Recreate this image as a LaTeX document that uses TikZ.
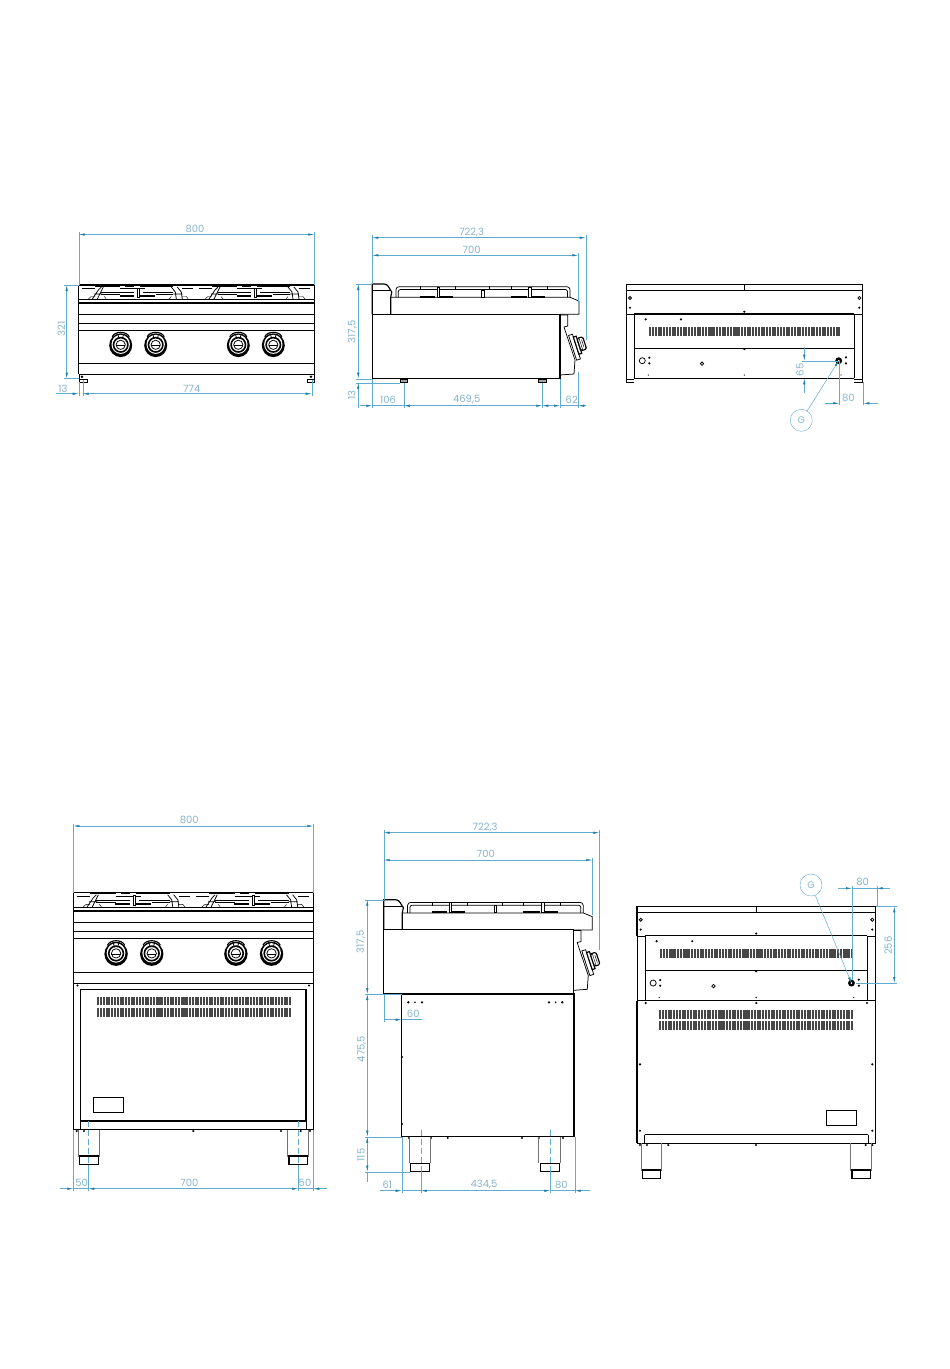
\documentclass[tikz,border=0pt]{standalone}
\usepackage{fontspec}
\setmainfont{Poppins}
\usetikzlibrary{arrows.meta}
\definecolor{dimcol}{HTML}{5FACCF}
\definecolor{tipcol}{HTML}{1F7EA8}
\definecolor{labcol}{HTML}{86B4CB}
\tikzset{
  dimline/.style={dimcol, line width=0.5pt, >={Latex[length=6pt,width=2.4pt,color=tipcol]}},
  extline/.style={dimcol, line width=0.4pt},
  dimlabel/.style={text=labcol, font=\fontsize{10}{10}\selectfont, inner sep=0pt},
  dimlabelv/.style={dimlabel, rotate=90},
  balloon/.style={draw=dimcol, line width=0.4pt, circle, minimum size=22pt, inner sep=0pt, text=labcol, font=\fontsize{9.5}{10}\selectfont},
  heavy/.style={line width=1.15pt, black},
  medium/.style={line width=0.75pt, black},
  fine/.style={line width=0.45pt, black},
  legline/.style={line width=0.9pt, black!55},
  centreline/.style={extline, dashed, dash pattern=on 6pt off 3pt}
}
\newcommand\ventrow[4]{%
  \pgfmathsetmacro\ventn{int((#2-#1)/2.78)}
  \foreach \v in {0,...,\ventn}
    \fill[black!72] ({#1+\v*2.78},#3) rectangle ++(2.05,#4-#3);
}
\newcommand\grateunit[1]{%
  \begin{scope}[shift={(#1,0)}]
    \draw[heavy] (-3,1) -- (22,1) (27,1) -- (36,1) (42,1) -- (75,1);
    \draw[medium] (-16,3.5) -- (-3,3.5) (22,3.5) -- (39,3.5) (42,3.5) -- (47,3.5) (84,3.5) -- (95,3.5);
    \draw[fine] (3,7) -- (36,7) (45,7) -- (75,7);
    \draw[medium] (3,9.3) -- (22,9.3) (58,9.3) -- (75,9.3);
    \draw[line width=2.2pt] (21.7,11.2) -- (36,11.2) (41.7,11.2) -- (56.7,11.2);
    \draw[medium] (-6,14) -- (0,5) -- (3,2) (-1,14) -- (3,6) -- (5,2) (-4,9) -- (4,9);
    \draw[medium] (73,2) -- (77,7) -- (78,14) (79,2) -- (83,7) -- (84,14) (75,9) -- (84,9);
    \draw[fine] (-10,14) -- (-7,11.5) -- (-3,11.5) (6,11.5) -- (8,14) (71,14) -- (73,11.5) (84,11.5) -- (88,11.5) -- (90,14);
    \draw[medium] (39,3) rectangle (41.5,12);
  \end{scope}
}
\newcommand\burnerknob[2]{%
  \begin{scope}[shift={(#1,#2)}]
    \fill[black] (0,1) ellipse (11.5 and 11.8);
    \fill[white] (0,0) ellipse (9.2 and 9.6);
    \draw[line width=1.6pt] (0,0.5) circle (7.2);
    \draw[medium] (0,0.5) circle (4.6);
    \draw[medium] (-4.6,1.5) -- (4.6,1.5);
    \draw[heavy] (-8.5,-7.5) .. controls (-6,-13.5) and (6,-13.5) .. (8.5,-7.5);
    \draw[medium] (-6,-8.5) .. controls (-3,-11) and (3,-11) .. (6,-8.5);
    \draw[medium] (-3,-10.5) -- (-1.5,-5.5) (3,-10.5) -- (1.5,-5.5);
  \end{scope}
}
\newcommand\frontpanel{%
  \draw[heavy] (0,0) -- (235.6,0);
  \draw[medium] (0,14.5) -- (235.6,14.5);
  \draw[heavy] (0,18) -- (235.6,18) (0,29.3) -- (235.6,29.3);
  \draw[medium] (0,38) -- (235.6,38);
  \draw[heavy] (0,45.3) -- (235.6,45.3) (0,78.7) -- (235.6,78.7) (0,89.3) -- (235.6,89.3);
  \draw[heavy] (0,0) -- (0,89.3) (235.6,0) -- (235.6,89.3);
  \grateunit{19.6}
  \grateunit{136.3}
  \burnerknob{42}{59.3}
  \burnerknob{77}{59.3}
  \burnerknob{159.6}{59.3}
  \burnerknob{194.6}{59.3}
}
\newcommand\sideknob[2]{%
  \begin{scope}[shift={(#1,#2)}, rotate=18]
    \draw[medium, fill=white] (-6,-12) rectangle (-2,14);
    \draw[heavy, fill=white] (-2,-9) rectangle (1,9);
    \draw[heavy, fill=white, rounded corners=1.5pt] (1,-6.5) rectangle (7,6.5);
    \draw[fine] (3,-6.5) -- (3,6.5) (5,-4) -- (5,4);
  \end{scope}
}
\newcommand\sidepanel{%
  \draw[heavy] (0,30.3) -- (0,0) -- (12,0) .. controls (16,0) and (17,5) .. (19.5,8) -- (18.4,13.3) -- (18.4,30.3);
  \draw[medium] (0,6.7) -- (18.4,6.7);
  \draw[heavy] (0,30.3) rectangle (187.7,94.7);
  \draw[medium] (18.4,13.3) -- (197.7,13.3) -- (206.7,17) -- (206.7,30.3) -- (187.7,30.3);
  \draw[medium, rounded corners=3pt] (23.7,13.3) -- (23.7,2.7) -- (197.7,2.7) -- (197.7,13.3);
  \draw[medium, rounded corners=2pt] (26,13.3) -- (26,5.6) -- (195.2,5.6) -- (195.2,13.3);
  \foreach \x in {47.7,82.7,117,138.4,174.4}
    \fill (\x,1.8) rectangle ++(1,4.5);
  \draw[medium, fill=white] (65,3) rectangle (67.5,13) (156.4,3) rectangle (158.9,13) (109.4,6) rectangle (111.9,13);
  \draw[line width=1.8pt] (47.7,12.6) -- (62.7,12.6) (67.7,12.6) -- (80.7,12.6) (138.4,12.6) -- (154.4,12.6) (159.4,12.6) -- (172.7,12.6);
  \draw[medium] (187.7,31) -- (195.4,31) -- (195.4,42) -- (191.7,43) -- (202.7,76) -- (201.7,90) -- (187.7,91);
  \sideknob{205.7}{61}
}
\newcommand\backpanel[1]{%
  \draw[heavy] (0,0) rectangle (236.4,6);
  \draw[heavy] (118,0) -- (118,6);
  \draw[heavy] (0,6) -- (0,29.3) (236.4,6) -- (236.4,29.3);
  \draw[heavy] (8,29.3) -- (228,29.3) (8,29.3) -- (8,93.6);
  \draw[heavy] (228,29.3) -- (228,93.6);
  \draw[medium] (0,29.3) -- (8,29.3) (228,29.3) -- (236.4,29.3);
  \draw[heavy] (8,63.6) -- (228,63.6);
  \ventrow{23}{213}{42}{51.3}
  \draw[medium] (3.7,13.3) circle (1.5) (233,13.3) circle (1.5);
  \draw[medium] (16,76) circle (3);
  \draw[medium] (75.7,79) circle (1.7);
  \foreach \x/\y in {3.7/23,233/23,118/27,19.4/34.6,54.7/34.6,118/64.3,23/73,23/78.6,219.7/72.6,219.7/78.6}
    \fill (\x,\y) circle (1.2);
  \foreach \x/\y in {22/90.3,118/90.3,214.7/90.3}
    \fill (\x,\y) circle (0.7);
  \fill (212.4,76) circle (3.4);
  \fill[white] (212.4,76) circle (0.9);
  \coordinate (#1) at (212.4,76);
}
\begin{document}
\begin{tikzpicture}[x=1pt,y=-1pt]
  \useasboundingbox (0,0) rectangle (950,1369);

  \begin{scope}[shift={(78.7,285)}]
    \frontpanel
  \end{scope}
  \draw[medium] (79,379.5) rectangle (87,382.3) (307,379.5) rectangle (314,382.3);
  \draw[medium] (79,374.3) -- (79,382) (314.3,374.3) -- (314.3,382);
  \fill (82,376.7) circle (1.4) (311,376.7) circle (1.4);

  \begin{scope}[shift={(73.3,892.7)},xscale=1.0187,yscale=1.015]
    \frontpanel
  \end{scope}
  \draw[heavy] (73.3,983.3) -- (73.3,1129.7) (313.3,983.3) -- (313.3,1129.7) (73.3,1129.7) -- (313.3,1129.7);
  \draw[medium] (80.7,989) -- (306,989);
  \draw[heavy] (80.7,989) -- (80.7,1121) (306,989) -- (306,1121) (80.7,1121) -- (306,1121);
  \draw[fine] (80.7,1121) -- (80.7,1129.7) (306,1121) -- (306,1129.7);
  \ventrow{97.3}{290}{996.7}{1004.7}
  \ventrow{97.3}{290}{1007.7}{1016.7}
  \draw[medium] (93,1097.3) rectangle (123,1112);
  \foreach \x/\y in {77.5/985.5,309/985.5,76.7/1131,84/1131,193.3/1131,281/1131,300.7/1131,310/1131}
    \fill (\x,\y) circle (1.2);
  \draw[legline] (78.3,1130) -- (78.3,1156) -- (99.3,1156) -- (99.3,1130) (287.7,1130) -- (287.7,1156) -- (308.3,1156) -- (308.3,1130);
  \draw[heavy] (79.3,1156) rectangle (98.3,1164.7) (289,1156) rectangle (307.3,1164.7);

  \begin{scope}[shift={(372.3,284)}]
    \sidepanel
  \end{scope}
  \draw[medium, fill=black!35] (400,379) rectangle (407.7,382.7) (538.3,379) rectangle (546,382.7);

  \begin{scope}[shift={(383.7,899.7)},xscale=1.0092,yscale=0.9958]
    \sidepanel
  \end{scope}
  \draw[heavy] (401.7,994) rectangle (574,1136.7);
  \foreach \x in {408.3,422,549,562.3}
    \fill (\x,1002.3) circle (1.3);
  \foreach \x in {415,555.7}
    \fill (\x,1002.3) circle (0.9);
  \foreach \x/\y in {409/1138,431/1138,447.7/1138,522/1138,538.7/1138,563/1138,402/1057,402/1124}
    \fill (\x,\y) circle (1.1);
  \draw[legline] (409.3,1137) -- (409.3,1163.3) (430.7,1137) -- (430.7,1163.3) (538.7,1137) -- (538.7,1163.3) (560,1137) -- (560,1163.3);
  \draw[heavy] (410.7,1163.3) rectangle (429.7,1171.7) (540.7,1163.3) rectangle (559.3,1171.7);

  \begin{scope}[shift={(626.3,284.7)}]
    \backpanel{holea}
  \end{scope}
  \draw[medium] (626.3,314) -- (626.3,382.3) (862.7,314) -- (862.7,382.3);
  \draw[medium] (626.3,379) -- (634.3,379) (626.3,382.3) -- (634.3,382.3) (854.3,379) -- (862.7,379) (854.3,382.3) -- (862.7,382.3);
  \draw[heavy] (634.3,378.3) -- (854.3,378.3);

  \begin{scope}[shift={(637,906.3)},xscale=1.0097,yscale=1.01]
    \backpanel{holeb}
  \end{scope}
  \draw[medium] (637,936.3) -- (637,1000.7) (875.7,936.3) -- (875.7,1000.7);
  \draw[heavy] (637,1000.7) -- (875.7,1000.7) (637,1000.7) -- (637,1143.3) (875.7,1000.7) -- (875.7,1143.3);
  \draw[heavy] (644.7,1134.7) -- (868.3,1134.7) (637,1143.3) -- (875.7,1143.3);
  \draw[medium] (644.7,1134.7) -- (644.7,1143.3) (868.3,1134.7) -- (868.3,1143.3);
  \ventrow{659.3}{852.3}{1009.7}{1018.7}
  \ventrow{659.3}{852.3}{1021}{1030}
  \draw[medium] (826.7,1110.3) rectangle (856,1125.7);
  \foreach \x/\y in {645.7/1003,756.3/1003,867/1003,640/1064.3,872.3/1064.3,640/1130.7,872.3/1130.7,640/1145,647/1145,668.3/1145,756/1145,865.7/1145,872.3/1145}
    \fill (\x,\y) circle (1.2);
  \draw[legline] (641.7,1143.3) -- (641.7,1170) -- (661.7,1170) -- (661.7,1143.3) (850.7,1143.3) -- (850.7,1170) -- (871.7,1170) -- (871.7,1143.3);
  \draw[heavy] (642.7,1170) rectangle (660.7,1178.3) (852,1170) rectangle (870.7,1178.3);

  \foreach \x/\a/\b in {78.7/232/285,314.3/232/285,78.7/382/396,82.7/380/396,311.7/380/396,
    372.3/235/284,585.7/235/340,578.3/253/303,372.3/379/408,403.8/383/408,542.3/383/408,560/379/408,578.3/372/408,
    839.3/361/405,863.3/382/405,
    73.3/824/893,313.3/824/893,73.3/1130/1191,313.3/1130/1191,88.3/1165/1191,298.3/1165/1191,
    383.7/830/900,599.3/830/950,592.3/858/915,383.7/994/1022,401.7/1137/1193,574.7/1137/1193,420.7/1172/1193,550.3/1172/1193,
    852/886/980,876.7/886/906}
    \draw[extline] (\x,\a) -- (\x,\b);
  \foreach \y/\a/\b in {285/64/79,378.5/64/79,284/356/372,378.7/356/372,382.7/356/400,360.7/802/838,
    899.7/365/384,994/365/402,1136.7/365/402,1171.7/365/410,906.3/876/897,983/856/897}
    \draw[extline] (\a,\y) -- (\b,\y);
  \draw[centreline] (88.3,1121) -- (88.3,1168) (298.3,1121) -- (298.3,1168);
  \draw[centreline] (420.7,1130) -- (420.7,1175) (550.3,1130) -- (550.3,1175);

  \draw[dimline,<->] (78.7,234.5) -- (314.3,234.5);
  \draw[dimline,<->] (66.7,285) -- (66.7,378.5);
  \draw[dimline,->] (56,393.7) -- (78.7,393.7);
  \draw[dimline,<->] (82.7,393.7) -- (311.7,393.7);
  \draw[dimline,<->] (372.3,237.7) -- (585.7,237.7);
  \draw[dimline,<->] (372.3,255.3) -- (578.3,255.3);
  \draw[dimline,<->] (358.3,284) -- (358.3,378.7);
  \draw[dimline,<-] (358.3,382.7) -- (358.3,408);
  \draw[dimline,->] (360,405.7) -- (372.3,405.7);
  \draw[dimline] (372.3,405.7) -- (403.8,405.7);
  \draw[dimline,<->] (403.8,405.7) -- (542.3,405.7);
  \draw[dimline,->] (553,405.7) -- (542.3,405.7);
  \draw[dimline,->] (549,405.7) -- (560,405.7);
  \draw[dimline] (560,405.7) -- (578.3,405.7);
  \draw[dimline,->] (586,405.7) -- (578.3,405.7);
  \draw[dimline,->] (804.3,346.7) -- (804.3,360.7);
  \draw[dimline,->] (804.3,393.3) -- (804.3,378.3);
  \draw[dimline,->] (825,403.3) -- (839.3,403.3);
  \draw[dimline,->] (878,403.3) -- (863.3,403.3);
  \draw[dimline,<->] (73.3,826) -- (313.3,826);
  \draw[dimline,->] (60,1188.7) -- (73.3,1188.7);
  \draw[dimline] (73.3,1188.7) -- (88.3,1188.7);
  \draw[dimline,<->] (88.3,1188.7) -- (298.3,1188.7);
  \draw[dimline,->] (327,1188.7) -- (313.3,1188.7);
  \draw[dimline] (298.3,1188.7) -- (313.3,1188.7);
  \draw[dimline,<->] (383.7,832.7) -- (599.3,832.7);
  \draw[dimline,<->] (383.7,860) -- (592.3,860);
  \draw[dimline,<->] (367.3,899.7) -- (367.3,994);
  \draw[dimline,<->] (367.3,994) -- (367.3,1136.7);
  \draw[dimline,<->] (367.3,1136.7) -- (367.3,1171.7);
  \draw[dimline] (367.3,1171.7) -- (367.3,1182);
  \draw[dimline,->] (383.7,1019.7) -- (401.7,1019.7);
  \draw[dimline] (401.7,1019.7) -- (422,1019.7);
  \draw[dimline,->] (380,1190.7) -- (401.7,1190.7);
  \draw[dimline,<->] (420.7,1190.7) -- (550.3,1190.7);
  \draw[dimline,->] (590,1190.7) -- (574.7,1190.7);
  \draw[dimline] (401.7,1190.7) -- (420.7,1190.7) (550.3,1190.7) -- (574.7,1190.7);
  \draw[dimline,->] (838.3,888.3) -- (852,888.3);
  \draw[dimline,->] (890,888.3) -- (876.7,888.3);
  \draw[dimline] (852,888.3) -- (876.7,888.3);
  \draw[dimline,<->] (894.3,906.3) -- (894.3,983);

  \node[balloon] (ga) at (801.3,420.3) {G};
  \node[balloon] (gb) at (811,885) {G};
  \draw[dimline,->] (ga) -- (holea);
  \draw[dimline,->] (gb) -- (holeb);

  \node[dimlabel] (wfronta) at (195,229) {800};
  \node[dimlabelv] (hfronta) at (61.5,329) {321};
  \node[dimlabel] (ofronta) at (63,388.5) {13};
  \node[dimlabel] (ffronta) at (191.7,388.5) {774};
  \node[dimlabel] (dsidea) at (471.7,232.7) {722,3};
  \node[dimlabel] (bsidea) at (471.7,250) {700};
  \node[dimlabelv] (hsidea) at (352.3,331.7) {317,5};
  \node[dimlabelv] (osidea) at (351.7,395) {13};
  \node[dimlabel] (lsidea) at (388,400) {106};
  \node[dimlabel] (msidea) at (466.7,400) {469,5};
  \node[dimlabel] (rsidea) at (571.7,400) {62};
  \node[dimlabelv] (hbacka) at (800,370) {65};
  \node[dimlabel] (wbacka) at (848.3,398.3) {80};
  \node[dimlabel] (wfrontb) at (189.3,820.3) {800};
  \node[dimlabel] (lfrontb) at (81.7,1182.7) {50};
  \node[dimlabel] (mfrontb) at (189.3,1182.7) {700};
  \node[dimlabel] (rfrontb) at (305,1182.7) {50};
  \node[dimlabel] (dsideb) at (485,827.7) {722,3};
  \node[dimlabel] (bsideb) at (486,854.3) {700};
  \node[dimlabelv] (hsideb) at (361,941.7) {317,5};
  \node[dimlabelv] (csideb) at (361.7,1049) {475,5};
  \node[dimlabelv] (fsideb) at (361,1155) {115};
  \node[dimlabel] (osideb) at (413.3,1014) {60};
  \node[dimlabel] (lsideb) at (387.3,1185) {61};
  \node[dimlabel] (msideb) at (484,1185) {434,5};
  \node[dimlabel] (rsideb) at (561.3,1185) {80};
  \node[dimlabel] (wbackb) at (862.7,882.3) {80};
  \node[dimlabelv] (hbackb) at (888.3,945.7) {256};
\end{tikzpicture}
\end{document}
